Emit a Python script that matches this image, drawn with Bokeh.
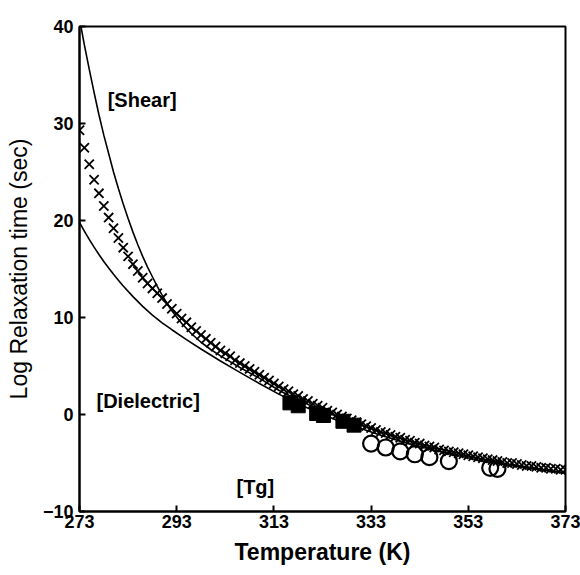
from bokeh.plotting import figure
from bokeh.models import FixedTicker, Range1d, Label
from bokeh.embed import file_html
from bokeh.resources import INLINE

# Shear curve
shear_T = [273.0, 273.3, 274, 275, 276, 277, 278, 279, 280, 281, 282, 283, 284, 285, 286, 287, 288, 289,
           290, 291, 292, 294, 296, 298, 300, 302, 306, 310, 314, 318, 322, 326, 330, 335, 340, 345,
           350, 355, 360, 366, 373]
shear_y = [41.0, 40.0, 38.1, 35.6, 33.2, 30.9, 28.8, 26.9, 25.0, 23.3, 21.7, 20.2, 18.8, 17.5, 16.3, 15.2,
           14.2, 13.2, 12.3, 11.45, 10.7, 9.4, 8.35, 7.45, 6.7, 6.05, 4.85, 3.75, 2.5, 1.5, 0.6, -0.2, -0.9,
           -1.8, -2.6, -3.3, -3.9, -4.5, -5.0, -5.5, -6.0]

# Dielectric curve
diel_T = [273, 274, 275, 276, 277, 278, 279, 280, 281, 282, 284, 286, 288, 290, 292, 295, 298, 302, 306,
          310, 314, 318, 322, 326, 330, 335, 340, 345, 350, 355, 360, 366, 373]
diel_y = [19.8, 18.9, 18.05, 17.25, 16.5, 15.78, 15.1, 14.45, 13.83, 13.25, 12.15, 11.15, 10.25, 9.45,
          8.74, 7.72, 6.75, 5.52, 4.34, 3.2, 2.1, 1.1, 0.2, -0.6, -1.3, -2.15, -2.9, -3.55, -4.15, -4.7,
          -5.15, -5.6, -6.05]

# Crosses (one per kelvin)
cross_T = list(range(273, 374))
cross_y = [29.3, 27.5, 25.8, 24.2, 22.8, 21.5, 20.3, 19.2, 18.2, 17.2,
           16.3, 15.5, 14.8, 14.1, 13.5, 13.0, 12.5, 12.0, 11.4, 10.9,
           10.4, 9.9, 9.5, 9.0, 8.6, 8.2, 7.8, 7.4, 7.0, 6.6,
           6.3, 6.0, 5.6, 5.3, 5.0, 4.7, 4.4, 4.1, 3.8, 3.5,
           3.2, 2.9, 2.6, 2.4, 2.1, 1.9, 1.6, 1.4, 1.1, 0.9,
           0.7, 0.4, 0.2, 0.0, -0.2, -0.4, -0.6, -0.8, -1.0, -1.2,
           -1.4, -1.6, -1.8, -1.9, -2.1, -2.3, -2.4, -2.6, -2.7, -2.9,
           -3.0, -3.2, -3.3, -3.4, -3.6, -3.7, -3.8, -3.9, -4.0, -4.1,
           -4.2, -4.3, -4.4, -4.5, -4.6, -4.7, -4.8, -4.9, -5.0, -5.0,
           -5.1, -5.2, -5.3, -5.3, -5.4, -5.5, -5.5, -5.6, -5.6, -5.7, -5.7]

# Filled squares
sq_T = [316.3, 318.0, 321.8, 323.2, 327.2, 329.5]
sq_y = [1.2, 0.9, 0.1, -0.1, -0.7, -1.1]

# Open circles
circ_T = [333, 336, 339, 342, 345, 349, 357.5, 359]
circ_y = [-3.0, -3.4, -3.8, -4.1, -4.4, -4.8, -5.5, -5.6]

x_ticks = [273, 293, 313, 333, 353, 373]
y_ticks = [-10, 0, 10, 20, 30, 40]

FONT = "Liberation Sans"

p = figure(width=580, height=575, output_backend="svg", toolbar_location=None,
           x_range=Range1d(273, 373), y_range=Range1d(-10, 40),
           min_border_left=79, min_border_right=15, min_border_top=26, min_border_bottom=64)
p.grid.visible = False
p.outline_line_color = "black"
p.outline_line_width = 2
p.background_fill_color = "white"
p.border_fill_color = "white"

p.line(shear_T, shear_y, color="black", line_width=1.6)
p.line(diel_T, diel_y, color="black", line_width=1.6)
p.scatter(cross_T, cross_y, marker="x", size=13, line_color="black", line_width=1.8)
p.scatter(sq_T, sq_y, marker="square", size=14, fill_color="black", line_color="black")
p.scatter(circ_T, circ_y, marker="circle", size=16, fill_color=None, line_color="black", line_width=2.2)

for ax, ticks in ((p.xaxis, x_ticks), (p.yaxis, y_ticks)):
    ax.ticker = FixedTicker(ticks=ticks)
    ax.axis_line_width = 2
    ax.axis_line_color = "black"
    ax.major_tick_in = 6
    ax.major_tick_out = 0
    ax.major_tick_line_width = 2
    ax.minor_tick_line_color = None
    ax.major_label_text_font = FONT
    ax.major_label_text_font_style = "bold"
    ax.major_label_text_font_size = "18px"
    ax.major_label_text_color = "black"

p.xaxis.major_label_standoff = 3
p.yaxis.major_label_standoff = 6

p.xaxis.axis_label = "Temperature (K)"
p.xaxis.axis_label_text_font = FONT
p.xaxis.axis_label_text_font_style = "bold"
p.xaxis.axis_label_text_font_size = "23px"
p.xaxis.axis_label_text_color = "black"
p.xaxis.axis_label_standoff = 8

p.yaxis.axis_label = "Log Relaxation time (sec)"
p.yaxis.axis_label_text_font = FONT
p.yaxis.axis_label_text_font_style = "normal"
p.yaxis.axis_label_text_font_size = "23px"
p.yaxis.axis_label_text_color = "black"
p.yaxis.axis_label_standoff = 8

for txt, tx, ty in (("[Shear]", 278.8, 32.4), ("[Dielectric]", 276.5, 1.4), ("[Tg]", 305.3, -7.5)):
    p.add_layout(Label(x=tx, y=ty, text=txt, text_font=FONT, text_font_style="bold",
                       text_font_size="20px", text_baseline="middle", text_color="black"))

open("out.html", "w").write(file_html(p, INLINE))
